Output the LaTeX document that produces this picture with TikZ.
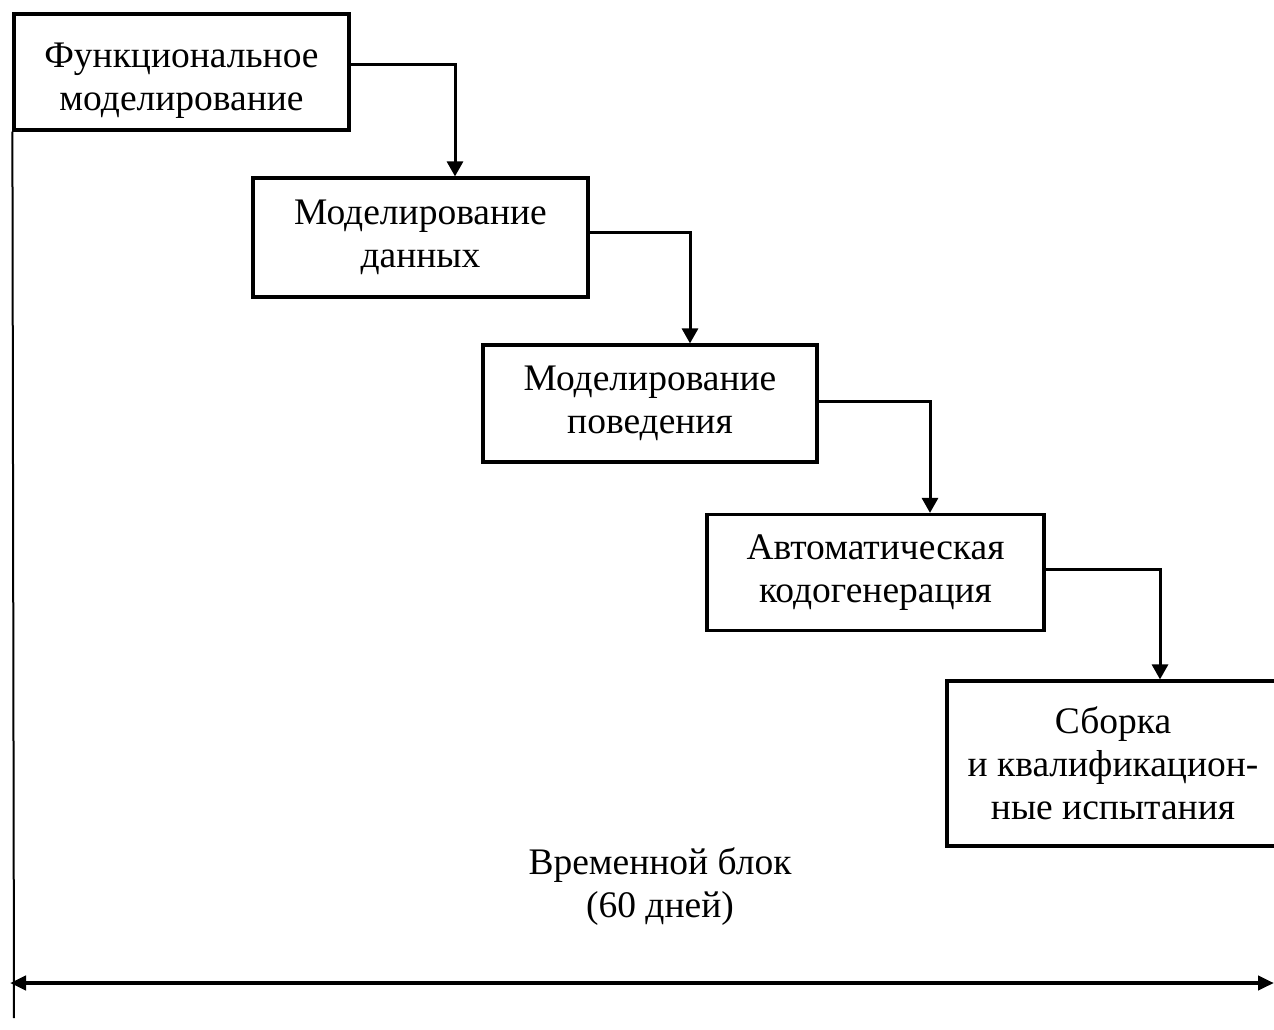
\documentclass[tikz,border=0pt]{standalone}
\usepackage{fontspec}
\setmainfont{Liberation Serif}
\usetikzlibrary{arrows.meta}
\begin{document}
\begin{tikzpicture}[x=1pt,y=-1pt,
  stagebox/.style={draw,line width=3.2pt,align=center,inner sep=0pt,
    font=\fontsize{37.5}{43}\selectfont},
  conn/.style={line width=3pt,-{Triangle[length=15pt,width=16pt]}},
  lbl/.style={align=center,inner sep=0pt,font=\fontsize{37.5}{43}\selectfont}]
\useasboundingbox (0,0) rectangle (1274,1030);
\clip (0,0) rectangle (1274,1030);
\node[stagebox,minimum width=335pt,minimum height=116pt] (b1) at (181.5,72) {};
\node[lbl] (t1) at ([yshift=-9pt]b1.center) {Функциональное\\моделирование};
\node[stagebox,minimum width=335pt,minimum height=119pt] (b2) at (420.5,237.5) {Моделирование\\данных};
\node[stagebox,minimum width=334pt,minimum height=117pt] (b3) at (650,403.5) {Моделирование\\поведения};
\node[stagebox,minimum width=337pt,minimum height=116pt] (b4) at (875.5,572.5) {Автоматическая\\кодогенерация};
\node[stagebox,minimum width=332pt,minimum height=165pt] (b5) at (1113,763.5) {Сборка\\и квалификацион-\\ные испытания};
\node[lbl] (tb) at (660,887) {Временной блок\\(60 дней)};
\coordinate (vb) at (14,1018);
\coordinate (hl) at (10,983);
\coordinate (hr) at (1274,983);
\draw[conn] ([yshift=7pt]b1.east) -| ([xshift=34.5pt]b2.north);
\draw[conn] ([yshift=5pt]b2.east) -| ([xshift=40pt]b3.north);
\draw[conn] ([yshift=2pt]b3.east) -| ([xshift=54.5pt]b4.north);
\draw[conn] ([yshift=3pt]b4.east) -| ([xshift=47pt]b5.north);
\draw[line width=2pt] (b1.south west) -- (vb);
\draw[line width=4pt,{Triangle[length=16pt,width=14pt]}-{Triangle[length=16pt,width=14pt]}] (hl) -- (hr);
\end{tikzpicture}
\end{document}
